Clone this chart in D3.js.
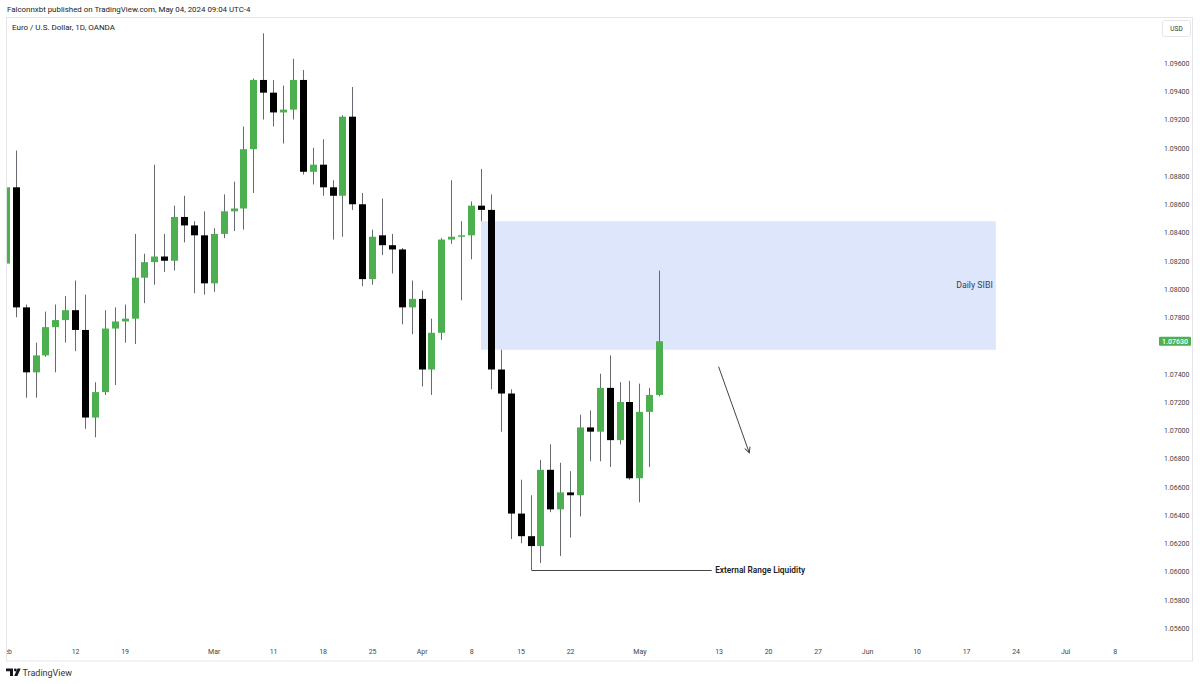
<!DOCTYPE html>
<html><head><meta charset="utf-8">
<script src="https://cdn.jsdelivr.net/npm/d3@7"></script>
<style>body{margin:0;background:#fff;} svg{display:block;font-family:Roboto,"Noto Sans",sans-serif;}</style>
</head><body><svg id="c" width="1200" height="684"></svg>
<script>
// ---- data (EUR/USD daily, OANDA) ----
const dates = ["2024-02-01","2024-02-02","2024-02-05","2024-02-06","2024-02-07","2024-02-08","2024-02-09",
"2024-02-12","2024-02-13","2024-02-14","2024-02-15","2024-02-16","2024-02-19","2024-02-20","2024-02-21","2024-02-22","2024-02-23",
"2024-02-26","2024-02-27","2024-02-28","2024-02-29","2024-03-01","2024-03-04","2024-03-05","2024-03-06","2024-03-07","2024-03-08",
"2024-03-11","2024-03-12","2024-03-13","2024-03-14","2024-03-15","2024-03-18","2024-03-19","2024-03-20","2024-03-21","2024-03-22",
"2024-03-25","2024-03-26","2024-03-27","2024-03-28","2024-03-29","2024-04-01","2024-04-02","2024-04-03","2024-04-04","2024-04-05",
"2024-04-08","2024-04-09","2024-04-10","2024-04-11","2024-04-12","2024-04-15","2024-04-16","2024-04-17","2024-04-18","2024-04-19",
"2024-04-22","2024-04-23","2024-04-24","2024-04-25","2024-04-26","2024-04-29","2024-04-30","2024-05-01","2024-05-02","2024-05-03"];
const open  = [1.0818,1.0872,1.0787,1.0741,1.0753,1.0773,1.0778,1.0785,1.0771,1.0709,1.0727,1.0772,1.0777,1.0779,1.0808,1.0819,1.0823,
1.0820,1.0851,1.0845,1.0838,1.0804,1.0839,1.0855,1.0857,1.0899,1.0948,1.0939,1.0925,1.0927,1.0948,1.0883,1.0888,1.0872,1.0866,1.0922,1.0860,
1.0807,1.0838,1.0831,1.0828,1.0787,1.0793,1.0743,1.0769,1.0835,1.0837,1.0838,1.0859,1.0856,1.0743,1.0726,1.0641,1.0625,1.0618,1.0672,1.0644,
1.0656,1.0654,1.0702,1.0699,1.0730,1.0693,1.0720,1.0666,1.0713,1.0725];
const high  = [1.0895,1.0898,1.0789,1.0762,1.0784,1.0789,1.0795,1.0806,1.0796,1.0734,1.0785,1.0787,1.0789,1.0839,1.0825,1.0888,1.0839,
1.0859,1.0866,1.0848,1.0855,1.0843,1.0867,1.0876,1.0915,1.0949,1.0981,1.0948,1.0944,1.0963,1.0955,1.0900,1.0906,1.0877,1.0923,1.0943,1.0868,
1.0842,1.0864,1.0839,1.0829,1.0806,1.0799,1.0779,1.0836,1.0877,1.0848,1.0862,1.0885,1.0867,1.0757,1.0729,1.0665,1.0654,1.0679,1.0690,1.0677,
1.0671,1.0711,1.0714,1.0740,1.0753,1.0734,1.0735,1.0733,1.0730,1.0813];
const low   = [1.0797,1.0780,1.0723,1.0723,1.0752,1.0741,1.0762,1.0756,1.0701,1.0695,1.0725,1.0732,1.0762,1.0761,1.0790,1.0803,1.0812,
1.0813,1.0833,1.0797,1.0796,1.0798,1.0836,1.0841,1.0842,1.0868,1.0920,1.0915,1.0903,1.0920,1.0881,1.0874,1.0866,1.0835,1.0837,1.0856,1.0802,
1.0803,1.0824,1.0811,1.0775,1.0768,1.0731,1.0725,1.0764,1.0832,1.0792,1.0821,1.0848,1.0729,1.0699,1.0623,1.0620,1.0601,1.0606,1.0642,1.0611,
1.0624,1.0639,1.0678,1.0678,1.0674,1.0690,1.0665,1.0649,1.0674,1.0724];
const close = [1.0872,1.0787,1.0741,1.0753,1.0773,1.0778,1.0785,1.0771,1.0709,1.0727,1.0772,1.0777,1.0779,1.0808,1.0819,1.0823,1.0820,
1.0851,1.0845,1.0838,1.0804,1.0839,1.0855,1.0857,1.0899,1.0948,1.0939,1.0925,1.0927,1.0948,1.0883,1.0888,1.0872,1.0866,1.0922,1.0860,1.0807,
1.0837,1.0831,1.0828,1.0787,1.0793,1.0743,1.0769,1.0835,1.0837,1.0838,1.0859,1.0856,1.0743,1.0726,1.0641,1.0625,1.0618,1.0672,1.0644,1.0656,
1.0654,1.0702,1.0699,1.0730,1.0693,1.0720,1.0666,1.0713,1.0725,1.0763];

// 1.07600 is hidden behind the last-price label, as in the reference
const yTickValues = [1.056,1.058,1.060,1.062,1.064,1.066,1.068,1.070,1.072,1.074,1.078,1.080,1.082,1.084,1.086,1.088,1.090,1.092,1.094,1.096];
const xTickIndex  = [0,7,12,21,27,32,37,42,47,52,57,64,72,77,82,87,92,97,102,107,112];
const xTickLabels = ["Feb","12","19","Mar","11","18","25","Apr","8","15","22","May","13","20","27","Jun","10","17","24","Jul","8"];
const lastPrice = 1.0763;
// annotations (bar index, price)
const sibiIdx = [48, 100];
const sibiPrice = [1.0848, 1.0757];
const sibiLabel = {idx: 99.7, price: 1.0803, text: "Daily SIBI"};
const arrowIdx = [72, 75.1];
const arrowPrice = [1.0745, 1.0684];
const liqIdx = [53, 71.3];
const liqPrice = 1.0601;
const liqText = "External Range Liquidity";

// ---- scales ----
const svg = d3.select("#c");
const x = d3.scaleLinear().domain([0, 100]).range([5.8, 995.8]);
const y = d3.scaleLinear().domain([1.056, 1.096]).range([628, 63]);

const UP = "#4caf50", DOWN = "#000000", WICK = "#666a70";

// header
svg.append("text").attr("x", 7).attr("y", 12).attr("font-size", 7.9).attr("fill", "#222")
  .text("Falconnxbt published on TradingView.com, May 04, 2024 09:04 UTC-4");

// frame
svg.append("rect").attr("x", 6.5).attr("y", 17.5).attr("width", 1186).attr("height", 643.5)
  .attr("fill", "none").attr("stroke", "#e3e5ea").attr("stroke-width", 1);

svg.append("text").attr("x", 12).attr("y", 30).attr("font-size", 8).attr("fill", "#222")
  .text("Euro / U.S. Dollar, 1D, OANDA");

// clip
const defs = svg.append("defs");
defs.append("clipPath").attr("id", "plot").append("rect").attr("x", 7).attr("y", 18).attr("width", 1145).attr("height", 622);
defs.append("clipPath").attr("id", "taxis").append("rect").attr("x", 7).attr("y", 640).attr("width", 1185).attr("height", 20);
const m = defs.append("marker").attr("id", "arr").attr("viewBox", "0 0 10 10").attr("refX", 9).attr("refY", 5)
  .attr("markerWidth", 7).attr("markerHeight", 7).attr("orient", "auto").attr("markerUnits", "userSpaceOnUse");
m.append("path").attr("d", "M1,1 L9,5 L1,9").attr("fill", "none").attr("stroke", "#333").attr("stroke-width", 1.3);

const plot = svg.append("g").attr("clip-path", "url(#plot)");

// SIBI zone
plot.append("rect")
  .attr("x", x(sibiIdx[0])).attr("y", y(sibiPrice[0]))
  .attr("width", x(sibiIdx[1]) - x(sibiIdx[0])).attr("height", y(sibiPrice[1]) - y(sibiPrice[0]))
  .attr("fill", "#dde6fb");
plot.append("text").attr("x", x(sibiLabel.idx)).attr("y", y(sibiLabel.price)).attr("dy", "0.35em")
  .attr("text-anchor", "end").attr("font-size", 8.8).attr("fill", "#3c4250").text(sibiLabel.text);

// candles
const bars = d3.range(dates.length).map(i => ({i, o: open[i], h: high[i], l: low[i], c: close[i]}));
const bw = 7;
const g = plot.append("g");
g.selectAll("line.w").data(bars).join("line").attr("class", "w")
  .attr("x1", d => Math.round(x(d.i)) + 0.5).attr("x2", d => Math.round(x(d.i)) + 0.5)
  .attr("y1", d => y(d.h)).attr("y2", d => y(d.l))
  .attr("stroke", WICK).attr("stroke-width", 1);
g.selectAll("rect.b").data(bars).join("rect").attr("class", "b")
  .attr("x", d => Math.round(x(d.i)) + 0.5 - bw / 2)
  .attr("y", d => y(Math.max(d.o, d.c)))
  .attr("width", bw)
  .attr("height", d => Math.max(1.5, Math.abs(y(d.o) - y(d.c))))
  .attr("fill", d => d.c >= d.o ? UP : DOWN);

// liquidity line
plot.append("line").attr("x1", Math.round(x(liqIdx[0])) + 0.5).attr("x2", x(liqIdx[1]))
  .attr("y1", Math.round(y(liqPrice)) + 0.5).attr("y2", Math.round(y(liqPrice)) + 0.5)
  .attr("stroke", "#444").attr("stroke-width", 1);
plot.append("text").attr("x", x(liqIdx[1]) + 3.5).attr("y", y(liqPrice)).attr("dy", "0.35em")
  .attr("font-size", 8.3).attr("font-weight", 600).attr("fill", "#222").text(liqText);

// arrow
plot.append("line").attr("x1", x(arrowIdx[0])).attr("y1", y(arrowPrice[0]))
  .attr("x2", x(arrowIdx[1])).attr("y2", y(arrowPrice[1]))
  .attr("stroke", "#444").attr("stroke-width", 1).attr("marker-end", "url(#arr)");

// price axis
const ya = d3.axisRight(y).tickValues(yTickValues).tickFormat(d => d.toFixed(5)).tickSize(0).tickPadding(0);
const yg = svg.append("g").attr("transform", "translate(1164,0)").call(ya);
yg.select(".domain").remove();
yg.selectAll("text").attr("font-size", 7).attr("fill", "#444").attr("font-family", "Roboto, sans-serif");

// last price label
svg.append("rect").attr("x", 1159).attr("y", y(lastPrice) - 4.5).attr("width", 32).attr("height", 9)
  .attr("fill", UP).attr("rx", 1);
svg.append("text").attr("x", 1175).attr("y", y(lastPrice)).attr("dy", "0.35em").attr("text-anchor", "middle")
  .attr("font-size", 7).attr("fill", "#fff").attr("font-weight", 500).text(lastPrice.toFixed(5));

// USD box
svg.append("rect").attr("x", 1162.5).attr("y", 20.5).attr("width", 28).attr("height", 16)
  .attr("fill", "#fff").attr("stroke", "#e3e5ea").attr("rx", 2);
svg.append("text").attr("x", 1176.5).attr("y", 28.5).attr("dy", "0.35em").attr("text-anchor", "middle")
  .attr("font-size", 6.5).attr("fill", "#333").text("USD");

// time axis
const xa = d3.axisBottom(x).tickValues(xTickIndex).tickFormat((d, i) => xTickLabels[i]).tickSize(0).tickPadding(0);
const xg = svg.append("g").attr("clip-path", "url(#taxis)").append("g").attr("transform", "translate(0,649)").call(xa);
xg.select(".domain").remove();
xg.selectAll("text").attr("font-size", 7).attr("fill", "#444").attr("font-family", "Roboto, sans-serif");

// TradingView logo
const lg = svg.append("g").attr("fill", "#131722");
lg.append("path").attr("d", "M6,668.5 h7 v7.5 h-3 v-4.8 h-4 z");
lg.append("circle").attr("cx", 15.3).attr("cy", 670).attr("r", 1.4);
lg.append("path").attr("d", "M17.5,668.5 h3.2 l-3.3,7.5 h-3.2 z");
svg.append("text").attr("x", 22.5).attr("y", 675.5).attr("font-size", 9).attr("fill", "#333").text("TradingView");
</script></body></html>
